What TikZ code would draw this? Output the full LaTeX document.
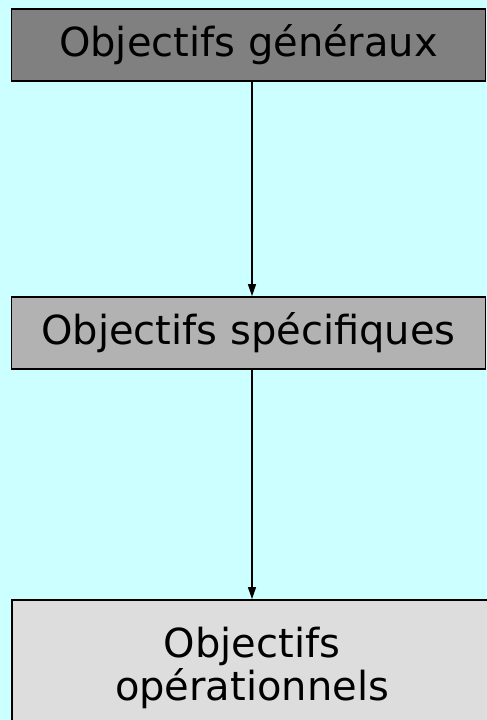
\documentclass[tikz,border=0pt]{standalone}
\usepackage{fontspec}
\setmainfont{DejaVu Sans}
\usetikzlibrary{arrows.meta}
\definecolor{bgcyan}{HTML}{CCFFFF}
\definecolor{darkfill}{HTML}{808080}
\definecolor{midfill}{HTML}{B2B2B2}
\definecolor{lightfill}{HTML}{DDDDDD}
\begin{document}
\begin{tikzpicture}[x=1pt,y=1pt,
  box/.style={draw=black, line width=1.8pt, rectangle, inner sep=0pt,
    font=\fontsize{40}{43}\selectfont, align=center},
  conn/.style={line width=1.4pt, -{Triangle[length=12pt,width=8pt]}}]
\useasboundingbox (0,0) rectangle (487,-720);
\clip (0,0) rectangle (487,-720);
\fill[bgcyan] (0,0) rectangle (487,-720);
\node[box, fill=darkfill, minimum width=474pt, minimum height=72pt] (gen) at (248.5,-45) {Objectifs généraux};
\node[box, fill=midfill, minimum width=474pt, minimum height=72pt] (spec) at (248.5,-333) {Objectifs spécifiques};
\node[box, fill=lightfill, minimum width=480pt, minimum height=136pt] (ops) at (252,-668) {Objectifs\\opérationnels};
\coordinate (ax) at (252,0);
\draw[conn] (gen.south -| ax) -- (spec.north -| ax);
\draw[conn] (spec.south -| ax) -- (ops.north -| ax);
\end{tikzpicture}
\end{document}
